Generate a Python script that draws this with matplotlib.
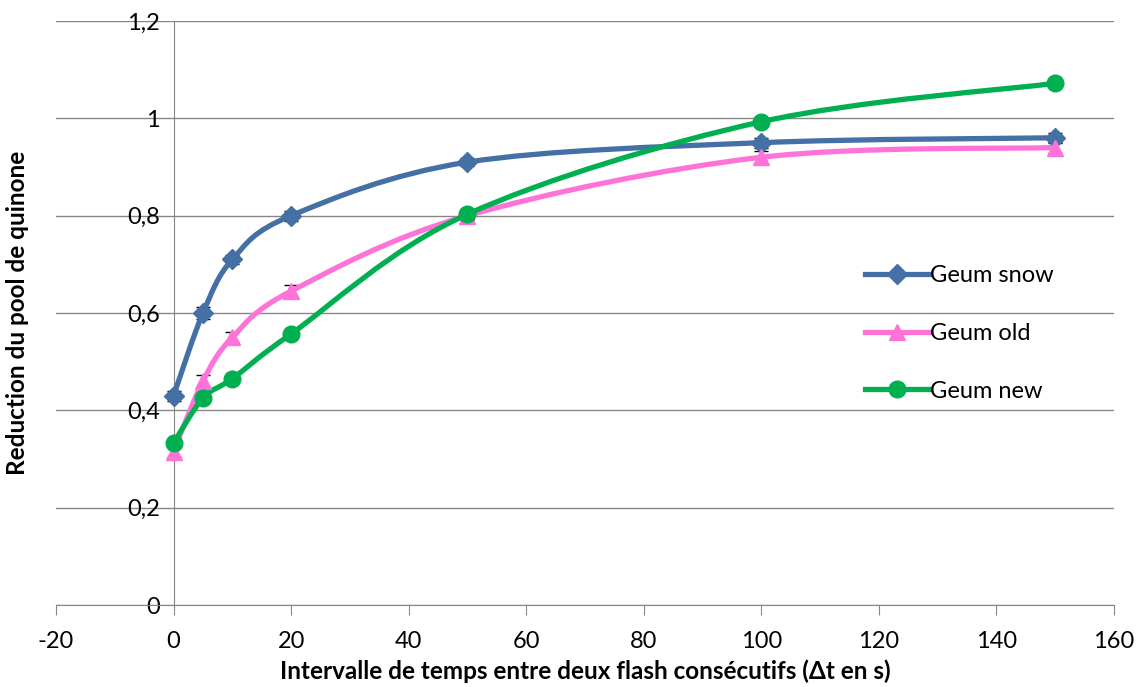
import numpy as np
import matplotlib.pyplot as plt
from matplotlib.path import Path
from matplotlib.patches import PathPatch
from matplotlib.lines import Line2D
from matplotlib.ticker import FuncFormatter, MultipleLocator

plt.rcParams['font.family'] = ['Lato', 'DejaVu Sans']
plt.rcParams['axes.unicode_minus'] = False

# data
intervals = [0, 5, 10, 20, 50, 100, 150]
geum_snow = [0.43, 0.60, 0.71, 0.80, 0.91, 0.95, 0.96]
geum_old = [0.315, 0.46, 0.55, 0.645, 0.80, 0.92, 0.94]
geum_new = [0.333, 0.425, 0.465, 0.557, 0.803, 0.993, 1.072]
err_snow = [0.01, 0.012, 0.01, 0.01, 0.008, 0.01, 0.01]
err_old = [0.01, 0.012, 0.01, 0.012, 0.008, 0.012, 0.012]
err_new = [0.005, 0.005, 0.005, 0.005, 0.005, 0.005, 0.005]

names = ['Geum snow', 'Geum old', 'Geum new']
colors = ['#4470A5', '#FF73D9', '#00B050']
markers = ['D', '^', 'o']
msizes = [10, 12, 12]


def smooth_path(xs, ys):
    # excel-like smoothed line: cubic bezier through the points
    pts = np.column_stack([xs, ys]).astype(float)
    n = len(pts)
    verts = [pts[0]]
    codes = [Path.MOVETO]
    for i in range(n - 1):
        p0 = pts[i - 1] if i > 0 else pts[i]
        p1 = pts[i]
        p2 = pts[i + 1]
        p3 = pts[i + 2] if i + 2 < n else pts[i + 1]
        c1 = p1 + (p2 - p0) / 6.0
        c2 = p2 - (p3 - p1) / 6.0
        verts += [c1, c2, p2]
        codes += [Path.CURVE4] * 3
    return Path(verts, codes)


fig = plt.figure(figsize=(11.41, 6.87), dpi=100)
ax = fig.add_axes([56 / 1141, 1 - 605 / 687, (1114 - 56) / 1141, (605 - 21) / 687])

series = [geum_snow, geum_old, geum_new]
errs = [err_snow, err_old, err_new]
for vals, err, col, mk, ms in zip(series, errs, colors, markers, msizes):
    ax.errorbar(intervals, vals, yerr=err, fmt='none', ecolor='black',
                elinewidth=1, capsize=5, zorder=3)
    ax.add_patch(PathPatch(smooth_path(intervals, vals), facecolor='none',
                           edgecolor=col, lw=3.8, capstyle='round', zorder=4))
    ax.plot(intervals, vals, linestyle='none', marker=mk, ms=ms,
            color=col, zorder=5)

ax.set_xlim(-20, 160)
ax.set_ylim(0, 1.2)
ax.xaxis.set_major_locator(MultipleLocator(20))
ax.yaxis.set_major_locator(MultipleLocator(0.2))
ax.yaxis.set_major_formatter(FuncFormatter(lambda v, p: ('%g' % round(v, 1)).replace('.', ',')))

ax.spines['top'].set_visible(False)
ax.spines['right'].set_visible(False)
ax.spines['left'].set_position(('data', 0))
ax.spines['left'].set_color('#868686')
ax.spines['bottom'].set_color('#868686')
ax.grid(axis='y', color='#868686', lw=1)
ax.set_axisbelow(True)
ax.tick_params(axis='y', length=0, pad=10, labelsize=17)
ax.tick_params(axis='x', direction='out', length=7, color='#868686', labelsize=17, pad=12)

ax.set_xlabel('Intervalle de temps entre deux flash consécutifs (Δt en s)',
              fontsize=17.5, fontweight='bold', labelpad=5)
fig.text(18 / 1141, 1 - 313 / 687, 'Reduction du pool de quinone', rotation=90,
         fontsize=17.5, fontweight='bold', ha='center', va='center')

handles = [Line2D([], [], color=c, lw=3.8, marker=m, ms=s) for c, m, s in zip(colors, markers, msizes)]
ax.legend(handles, names, loc='upper left', bbox_to_anchor=(0.745, 0.618),
          frameon=False, fontsize=17, labelspacing=1.55, handlelength=2.7,
          handletextpad=0.05)

fig.savefig('out.png', dpi=100)
